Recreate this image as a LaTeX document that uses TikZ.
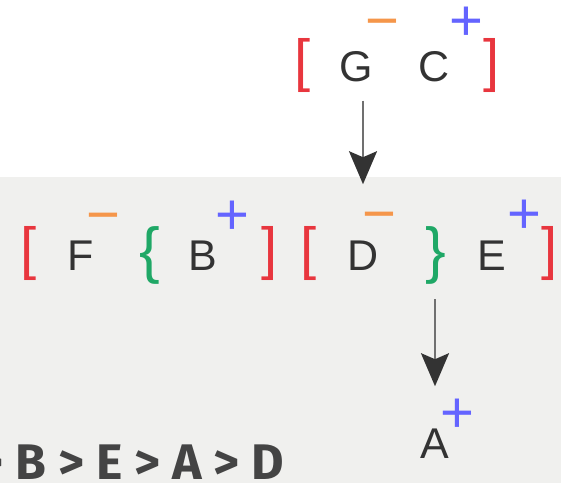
\documentclass[tikz,border=0pt]{standalone}
\usepackage{fontspec}
\setmainfont{Liberation Sans}
\newfontfamily\orderfont{Fira Sans}
\usetikzlibrary{arrows.meta}
\definecolor{ink}{HTML}{333333}
\definecolor{sqred}{HTML}{E8363E}
\definecolor{curlygreen}{HTML}{1FA866}
\definecolor{negorange}{HTML}{F5964A}
\definecolor{posblue}{HTML}{6464FF}
\definecolor{bggray}{HTML}{F0F0EE}
\definecolor{stem}{HTML}{707070}
\definecolor{ordergray}{HTML}{444444}

\begin{document}
\begin{tikzpicture}[x=1pt,y=-1pt,
  every node/.style={inner sep=0pt,anchor=base},
  letter/.style={text=ink,font=\fontsize{43}{43}\selectfont},
  sq/.style={text=sqred,font=\fontsize{58}{58}\selectfont},
  curly/.style={text=curlygreen,font=\fontsize{62}{62}\selectfont},
  negmark/.style={text=negorange,font=\fontsize{58}{58}\selectfont},
  posmark/.style={text=posblue,font=\fontsize{58}{58}\selectfont},
  arr/.style={draw=stem,line width=2pt,-{Stealth[length=33pt,width=28pt,inset=6pt,color=ink]}}]
\useasboundingbox (0,0) rectangle (561,483);
\fill[bggray] (0,177) rectangle (561,483);
\clip (0,0) rectangle (561,483);
\node[sq]      (l1) at (303,80)  {[};
\node[letter]  (G)  at (356,81)  {G};
\node[letter]  (C)  at (434,81)  {C};
\node[sq]      (r1) at (492,80)  {]};
\node[negmark] (Gm) at (382,40)  {−};
\node[posmark] (Cp) at (466,40)  {+};
\node[sq]      (l2) at (29,268)  {[};
\node[letter]  (F)  at (81,270)  {F};
\node[curly]   (cl) at (150,271) {\{};
\node[letter]  (B)  at (203,270) {B};
\node[sq]      (r2) at (270,268) {]};
\node[sq]      (l3) at (309,268) {[};
\node[letter]  (D)  at (363,270) {D};
\node[curly]   (cr) at (436,271) {\}};
\node[letter]  (E)  at (492,270) {E};
\node[sq]      (r3) at (550,268) {]};
\node[negmark] (Fm) at (103,234) {−};
\node[posmark] (Bp) at (232,234) {+};
\node[negmark] (Dm) at (379,233) {−};
\node[posmark] (Ep) at (524,233) {+};
\node[letter]  (A)  at (435,458) {A};
\node[posmark] (Ap) at (457,432) {+};
\node[text=ordergray,font=\orderfont\bfseries\fontsize{50}{50}\selectfont,anchor=base east]
               (ord) at (284,479) {> B > E > A > D};
\draw[arr,shorten <=19pt,shorten >=56pt] (G.south -| D.north) -- (D.north);
\draw[arr,shorten <=15pt,shorten >=42pt] (cr.south -| A.north) -- (A.north);
\end{tikzpicture}
\end{document}
